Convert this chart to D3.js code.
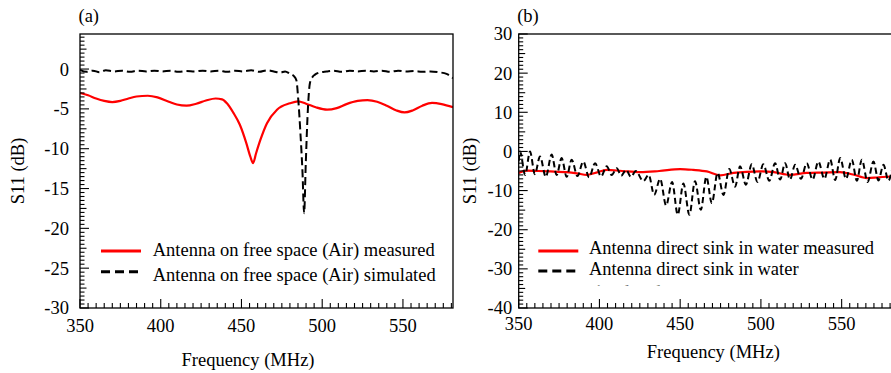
<!DOCTYPE html>
<html>
<head>
<meta charset="utf-8">
<script src="https://cdn.jsdelivr.net/npm/d3@7"></script>
<style>
  html, body { margin: 0; padding: 0; background: #fff; }
</style>
</head>
<body>
<div id="chart"></div>
<script>
// ---- data ----
const freqDomain = [350, 581];
const freqTicks = [350, 400, 450, 500, 550];

// (a) free space
const freqAirMeas = [350, 355, 360, 365, 370, 375, 380, 385, 392, 398, 405, 410, 416, 422, 428, 434, 438, 441, 445, 449, 453, 455.5, 457.2, 459, 461.7, 465.8, 472, 480, 485, 490, 496, 503, 509, 515, 522, 528, 534, 540, 546, 551, 556, 562, 568, 574, 581];
const s11AirMeas = [-3.0, -3.3, -3.7, -4.0, -4.15, -4.0, -3.7, -3.45, -3.35, -3.55, -4.1, -4.45, -4.6, -4.35, -3.95, -3.7, -3.8, -4.3, -5.5, -7.0, -9.3, -11.0, -11.8, -10.6, -8.9, -6.8, -5.1, -4.3, -4.05, -4.35, -4.8, -5.1, -4.9, -4.4, -4.0, -3.9, -4.1, -4.6, -5.2, -5.45, -5.2, -4.6, -4.25, -4.4, -4.8];
const freqAirSim = [350, 354, 358, 362, 366, 371, 376, 381, 386, 391, 396, 401, 406, 411, 416, 421, 426, 431, 436, 441, 446, 451, 456, 461, 466, 470, 474, 477, 480, 482.5, 484, 485.2, 486.5, 487.8, 488.8, 489.8, 490.9, 492.4, 494, 495.5, 498, 502.7, 507, 512, 517, 522, 527, 532, 537, 542, 547, 552, 557, 562, 567, 572, 577, 581];
const s11AirSim = [-0.1, -0.35, -0.2, -0.4, -0.15, -0.3, -0.2, -0.35, -0.2, -0.3, -0.2, -0.3, -0.2, -0.35, -0.25, -0.3, -0.2, -0.3, -0.2, -0.35, -0.2, -0.3, -0.15, -0.35, -0.15, -0.3, -0.45, -0.3, -0.6, -0.9, -1.4, -3.9, -8.0, -13.0, -18.1, -12.0, -6.0, -1.75, -1.0, -0.7, -0.45, -0.3, -0.2, -0.35, -0.2, -0.3, -0.2, -0.3, -0.2, -0.35, -0.2, -0.3, -0.25, -0.35, -0.3, -0.4, -0.6, -1.15];

// (b) sunk in water
const freqWaterMeas = [350, 355, 362, 369.5, 379.8, 386, 392.2, 398, 404.6, 414, 425.3, 437, 450, 458, 466.5, 474.8, 483, 491, 499.5, 508, 518.1, 528.4, 539, 549, 557, 565.6, 573, 581];
const s11WaterMeas = [-5.5, -4.9, -5.0, -5.1, -5.3, -5.6, -6.0, -5.4, -4.7, -5.0, -5.3, -5.0, -4.5, -4.7, -5.1, -6.1, -5.5, -5.2, -5.1, -5.3, -6.0, -5.5, -5.4, -5.3, -5.9, -6.8, -6.6, -6.4];
const freqWaterSim = [350, 350.8, 354, 357, 360, 363.2, 366.8, 370.4, 373.5, 376.6, 379.7, 382.8, 386.4, 390, 393.6, 397.3, 401, 404.5, 407.6, 410.7, 413.5, 416.5, 419.5, 422.5, 427.2, 430.5, 433.9, 437.6, 441.3, 445, 448.5, 452, 455.7, 459.2, 462.8, 466.2, 469.6, 473.2, 476.8, 480.4, 484, 487.1, 490.7, 494.3, 497.9, 501.5, 505.2, 508.8, 511.9, 515, 518, 521.2, 524.8, 528.4, 532, 535.6, 539.3, 542.9, 546, 549.1, 552.7, 556.3, 559.4, 562.5, 566.1, 569.7, 572.8, 575.9, 579, 581];
const s11WaterSim = [-2.5, 0.0, -6.0, 0.0, -5.8, -1.3, -6.5, -0.8, -6.0, -1.7, -6.5, -2.1, -6.3, -2.6, -6.6, -3.0, -6.4, -3.8, -6.0, -4.3, -6.2, -4.7, -6.5, -5.0, -7.6, -6.0, -11.1, -7.0, -13.8, -7.8, -16.2, -8.2, -16.2, -7.6, -14.9, -6.5, -13.2, -5.5, -11.1, -4.5, -9.0, -3.8, -8.5, -3.3, -7.8, -3.3, -7.5, -3.0, -7.2, -3.0, -7.2, -3.4, -7.0, -3.0, -7.2, -2.6, -7.0, -2.1, -7.3, -1.7, -7.0, -2.1, -7.5, -2.1, -7.8, -2.6, -7.4, -3.4, -7.5, -5.0];

const panels = [
  {
    tag: '(a)', left: 80, right: 453, yDomain: [-30, 4.4],
    yTicks: [-30, -25, -20, -15, -10, -5, 0], yMinorStep: 0.5, yMajorStep: 5,
    yLabelGap: 11, yTitleX: 23.5, xTitle: [248, 365.5], xLabelY: 331.7,
    measured: [freqAirMeas, s11AirMeas], simulated: [freqAirSim, s11AirSim],
    legend: ['Antenna on free space (Air) measured', 'Antenna on free space (Air) simulated'],
    legendX: 101, legendText: [[152.7, 255.5], [152.7, 280.5]], legendLineY: [251, 271.7],
  },
  {
    tag: '(b)', left: 518.7, right: 891.7, yDomain: [-40, 30],
    yTicks: [-40, -30, -20, -10, 0, 10, 20, 30], yMinorStep: 1, yMajorStep: 10,
    yLabelGap: 6.5, yTitleX: 475.5, xTitle: [713.3, 357.5], xLabelY: 330,
    measured: [freqWaterMeas, s11WaterMeas], simulated: [freqWaterSim, s11WaterSim],
    legend: ['Antenna direct sink in water measured', 'Antenna direct sink in water', 'simulated'],
    legendX: 538.3, legendText: [[589, 253.5], [589, 275], [589, 297.5]], legendLineY: [251, 271],
    legendClip: 285.5,
  },
];

const width = 891, height = 373;
const plotTop = 34, plotBottom = 308;
const serif = "'Liberation Serif', 'DejaVu Serif', 'Times New Roman', Times, serif";

const svg = d3.select('#chart').append('svg')
  .attr('width', width)
  .attr('height', height)
  .style('font-family', serif)
  .style('font-size', '18.5px');

panels.forEach((p, i) => drawPanel(p, i));

function drawPanel(p, idx) {
  const x = d3.scaleLinear().domain(freqDomain).range([p.left, p.right]);
  const y = d3.scaleLinear().domain(p.yDomain).range([plotBottom, plotTop]);
  const g = svg.append('g');

  // clip for the curves
  const clipId = 'clip' + idx;
  svg.append('clipPath').attr('id', clipId)
    .append('rect')
    .attr('x', p.left).attr('y', plotTop)
    .attr('width', p.right - p.left).attr('height', plotBottom - plotTop);

  const line = d3.line().curve(d3.curveMonotoneX)
    .x(d => x(d[0])).y(d => y(d[1]));

  const zip = (a, b) => a.map((v, k) => [v, b[k]]);

  const curves = g.append('g').attr('clip-path', `url(#${clipId})`);
  curves.append('path')
    .datum(zip(p.measured[0], p.measured[1]))
    .attr('d', line)
    .attr('fill', 'none')
    .attr('stroke', '#ff0000')
    .attr('stroke-width', 2.2);
  curves.append('path')
    .datum(zip(p.simulated[0], p.simulated[1]))
    .attr('d', line)
    .attr('fill', 'none')
    .attr('stroke', '#000')
    .attr('stroke-width', 2)
    .attr('stroke-dasharray', idx === 0 ? '8,4' : '6,3.5');

  // frame
  g.append('rect')
    .attr('x', p.left).attr('y', plotTop)
    .attr('width', p.right - p.left).attr('height', plotBottom - plotTop)
    .attr('fill', 'none').attr('stroke', '#000').attr('stroke-width', 1.3);

  // x ticks (inward)
  const xMinor = d3.range(freqDomain[0], freqDomain[1] + 0.01, 5);
  g.append('g').selectAll('line').data(xMinor).join('line')
    .attr('x1', d => x(d)).attr('x2', d => x(d))
    .attr('y1', plotBottom).attr('y2', d => plotBottom - (d % 50 === 0 ? 9 : 5))
    .attr('stroke', '#000').attr('stroke-width', 1.1);
  g.append('g').selectAll('text').data(freqTicks).join('text')
    .attr('x', d => x(d)).attr('y', p.xLabelY)
    .attr('text-anchor', 'middle')
    .text(d => d);

  // y ticks (inward)
  const yMinor = d3.range(p.yDomain[0], p.yDomain[1] + 0.001, p.yMinorStep);
  g.append('g').selectAll('line').data(yMinor).join('line')
    .attr('x1', p.left).attr('x2', d => {
      const r = Math.abs(d % p.yMajorStep);
      if (r < 1e-6) return p.left + 9;
      if (Math.abs(r - p.yMajorStep / 2) < 1e-6) return p.left + 6.5;
      return p.left + 4.5;
    })
    .attr('y1', d => y(d)).attr('y2', d => y(d))
    .attr('stroke', '#000').attr('stroke-width', 1.1);
  g.append('g').selectAll('text').data(p.yTicks).join('text')
    .attr('x', p.left - p.yLabelGap).attr('y', d => y(d))
    .attr('dy', '0.35em')
    .attr('text-anchor', 'end')
    .text(d => d);

  // titles
  g.append('text')
    .attr('transform', `translate(${p.yTitleX},${(plotTop + plotBottom) / 2}) rotate(-90)`)
    .attr('text-anchor', 'middle')
    .text('S11 (dB)');
  g.append('text')
    .attr('x', p.xTitle[0]).attr('y', p.xTitle[1])
    .attr('text-anchor', 'middle')
    .text('Frequency (MHz)');
  g.append('text')
    .attr('x', p.left - 1.5).attr('y', 21.5)
    .text(p.tag);

  // legend
  const lg = g.append('g');
  if (p.legendClip) {
    const lcId = 'lclip' + idx;
    svg.append('clipPath').attr('id', lcId)
      .append('rect').attr('x', 0).attr('y', 0).attr('width', width).attr('height', p.legendClip);
    lg.attr('clip-path', `url(#${lcId})`);
  }
  lg.append('line')
    .attr('x1', p.legendX).attr('x2', p.legendX + 40)
    .attr('y1', p.legendLineY[0]).attr('y2', p.legendLineY[0])
    .attr('stroke', '#ff0000').attr('stroke-width', 3);
  lg.append('line')
    .attr('x1', p.legendX).attr('x2', p.legendX + 38)
    .attr('y1', p.legendLineY[1]).attr('y2', p.legendLineY[1])
    .attr('stroke', '#000').attr('stroke-width', 3)
    .attr('stroke-dasharray', '9,5');
  lg.selectAll('text.leg').data(p.legend).join('text')
    .attr('class', 'leg')
    .attr('x', (d, k) => p.legendText[k][0])
    .attr('y', (d, k) => p.legendText[k][1])
    .text(d => d);
}
</script>
</body>
</html>
